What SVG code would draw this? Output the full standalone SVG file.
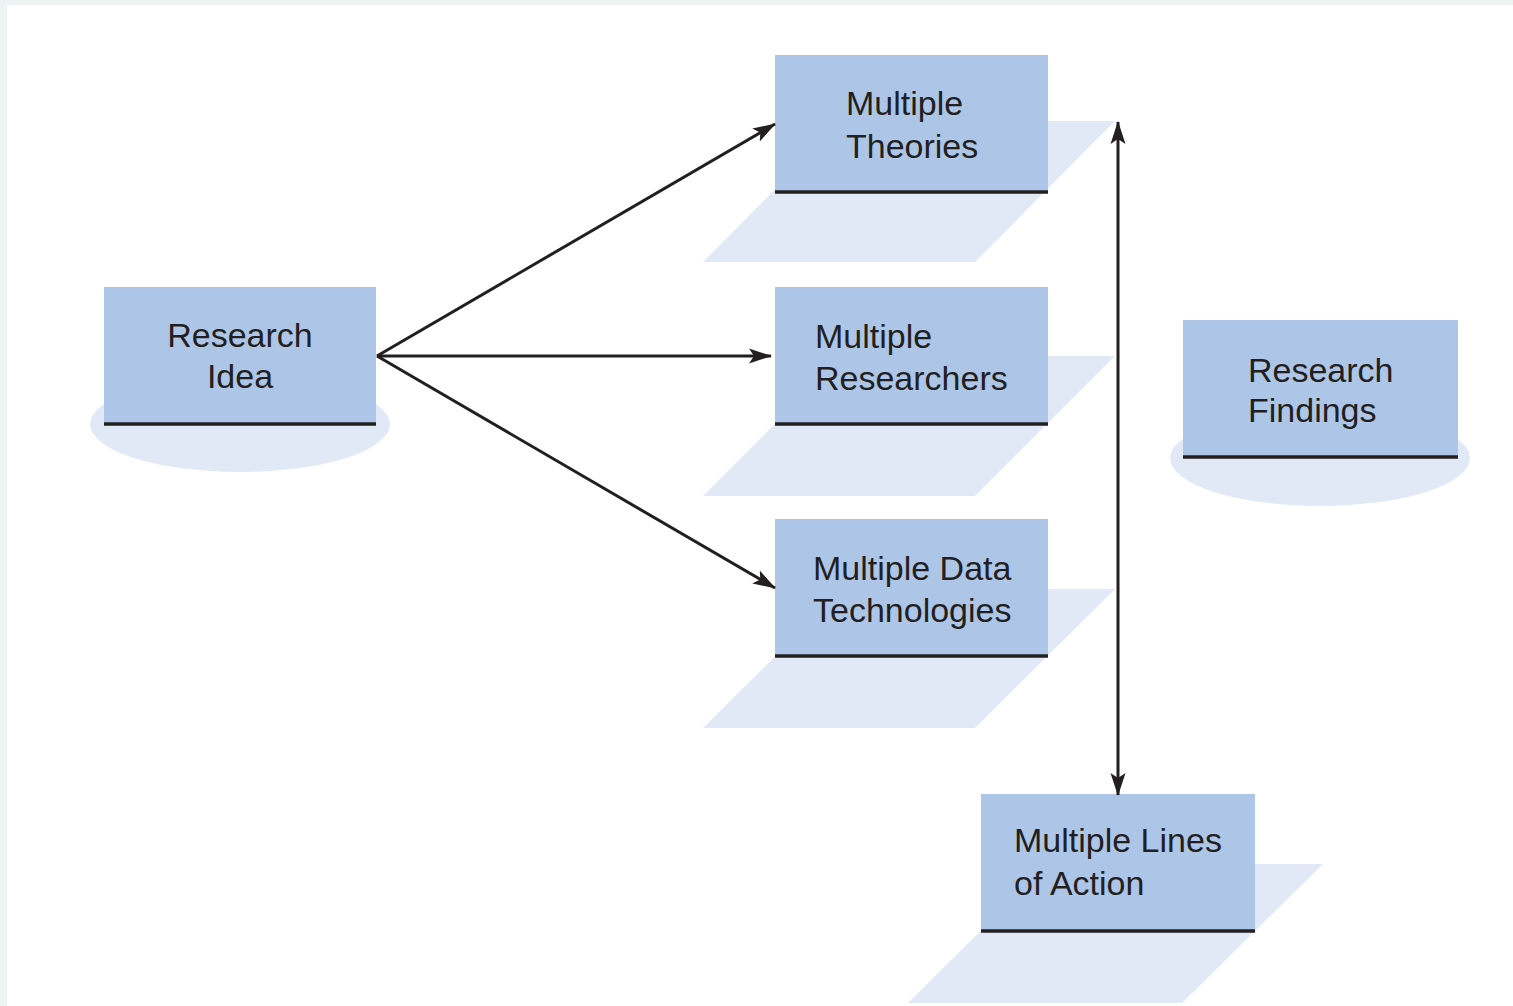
<svg xmlns="http://www.w3.org/2000/svg" width="1513" height="1006" viewBox="0 0 1513 1006">
<style>
.box{fill:#adc6e8}
.shadow{fill:#e1e9f6}
.base{stroke:#231f20;stroke-width:3.5}
.lbl{font-family:"Liberation Sans",Arial,sans-serif;font-size:34px;fill:#231f20}
.conn{stroke:#231f20;stroke-width:3;fill:none}
</style>
<defs>
<marker id="ah" markerUnits="userSpaceOnUse" markerWidth="24" markerHeight="18" viewBox="0 0 24 18" refX="22" refY="9" orient="auto-start-reverse">
<path d="M0,1.5 L23,9 L0,16.5 L5,9 z" fill="#231f20"/>
</marker>
</defs>
<rect x="0" y="0" width="1513" height="1006" fill="#eef4f4"/>
<rect x="7" y="5" width="1506" height="1001" fill="#ffffff"/>

<g id="research-idea">
<ellipse class="shadow" cx="240" cy="424" rx="150" ry="48"/>
<rect class="box" x="104" y="287" width="272" height="138"/>
<line class="base" x1="104" y1="424" x2="376" y2="424"/>
<text class="lbl" text-anchor="middle"><tspan x="240" y="347">Research</tspan><tspan x="240" y="388">Idea</tspan></text>
</g>

<g id="multiple-theories">
<polygon class="shadow" points="843,121 1115,121 975,262 703,262"/>
<rect class="box" x="775" y="55" width="273" height="138"/>
<line class="base" x1="775" y1="192" x2="1048" y2="192"/>
<text class="lbl"><tspan x="846" y="115">Multiple</tspan><tspan x="846" y="158">Theories</tspan></text>
</g>

<g id="multiple-researchers">
<polygon class="shadow" points="843,356 1115,356 975,496 703,496"/>
<rect class="box" x="775" y="287" width="273" height="138"/>
<line class="base" x1="775" y1="424" x2="1048" y2="424"/>
<text class="lbl"><tspan x="815" y="348">Multiple</tspan><tspan x="815" y="390">Researchers</tspan></text>
</g>

<g id="multiple-data-technologies">
<polygon class="shadow" points="843,589 1115,589 975,728 703,728"/>
<rect class="box" x="775" y="519" width="273" height="138"/>
<line class="base" x1="775" y1="656" x2="1048" y2="656"/>
<text class="lbl"><tspan x="813" y="580">Multiple Data</tspan><tspan x="813" y="622">Technologies</tspan></text>
</g>

<g id="research-findings">
<ellipse class="shadow" cx="1320" cy="458" rx="150" ry="48"/>
<rect class="box" x="1183" y="320" width="275" height="138"/>
<line class="base" x1="1183" y1="457" x2="1458" y2="457"/>
<text class="lbl"><tspan x="1248" y="382">Research</tspan><tspan x="1248" y="422">Findings</tspan></text>
</g>

<g id="multiple-lines-of-action">
<polygon class="shadow" points="1048,864 1323,864 1182,1003 908,1003"/>
<rect class="box" x="981" y="794" width="274" height="138"/>
<line class="base" x1="981" y1="931" x2="1255" y2="931"/>
<text class="lbl"><tspan x="1014" y="852">Multiple Lines</tspan><tspan x="1014" y="895">of Action</tspan></text>
</g>

<g id="connectors">
<line class="conn" x1="377" y1="356" x2="775" y2="124" marker-end="url(#ah)"/>
<line class="conn" x1="377" y1="356" x2="771" y2="356" marker-end="url(#ah)"/>
<line class="conn" x1="377" y1="356" x2="775" y2="588" marker-end="url(#ah)"/>
<line class="conn" x1="1118" y1="122" x2="1118" y2="795" marker-start="url(#ah)" marker-end="url(#ah)"/>
</g>
</svg>
